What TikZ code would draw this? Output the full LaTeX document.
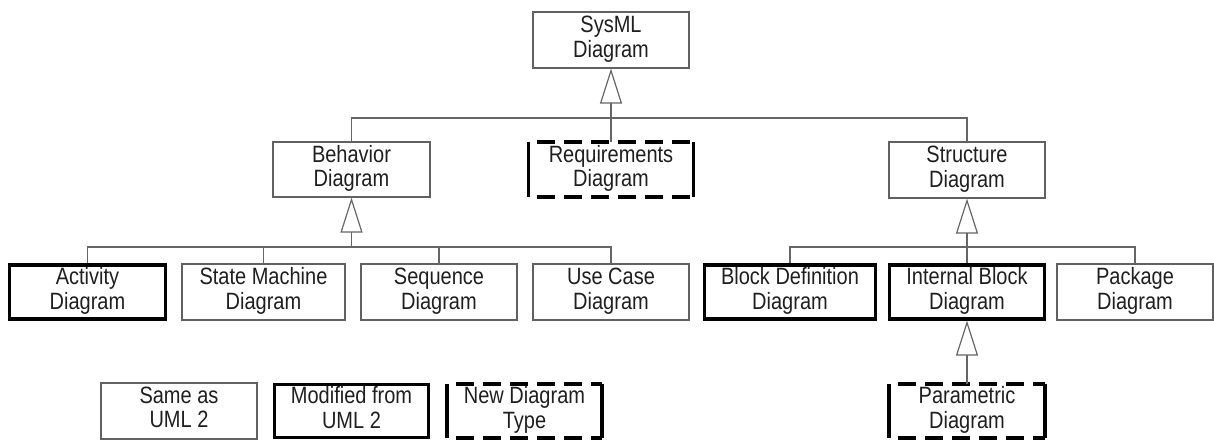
\documentclass[tikz,border=0pt]{standalone}
\usepackage{fontspec}
\setmainfont{Liberation Sans}
\usetikzlibrary{arrows.meta}
\newcommand{\lbl}[1]{\raisebox{-2pt}{\scalebox{1}[1.18]{\begin{tabular}{@{}c@{}}#1\end{tabular}}}}
\begin{document}
\begin{tikzpicture}[x=1pt,y=-1pt,
  box/.style={draw=black!62, line width=1.2pt, minimum height=56pt, inner sep=0pt,
    font=\fontsize{20}{20.5}\selectfont, text=black!88},
  thickbox/.style={box, draw=black, line width=3.2pt},
  newbox/.style={box, draw=none},
  conn/.style={draw=black!60, line width=1.2pt},
  gen/.style={conn, -{Triangle[open, length=35pt, width=22pt, line width=1.2pt]}},
  dashside/.style={draw=black, line width=3.4pt},
  dashtop/.style={draw=black, line width=3.4pt, dash pattern=on 18pt off 9pt, dash phase=18pt},
]
\useasboundingbox (0,0) rectangle (1214,440);

% level 0
\node[box, minimum width=156pt] (sysml) at (611,40) {\lbl{SysML\\Diagram}};
% level 1
\node[box, minimum width=157pt, minimum height=55pt] (behavior) at (351.5,169.5) {\lbl{Behavior\\Diagram}};
\node[newbox, minimum width=164pt, minimum height=54pt] (req) at (611,169.5) {\lbl{Requirements\\Diagram}};
\node[box, minimum width=156pt] (structure) at (967,170) {\lbl{Structure\\Diagram}};
% level 2
\node[thickbox, minimum width=156pt, minimum height=54pt] (activity) at (87.5,292) {\lbl{Activity\\Diagram}};
\node[box, minimum width=163pt, minimum height=56pt] (statemachine) at (263.5,292) {\lbl{State Machine\\Diagram}};
\node[box, minimum width=156pt, minimum height=56pt] (sequence) at (439,292) {\lbl{Sequence\\Diagram}};
\node[box, minimum width=156pt, minimum height=56pt] (usecase) at (611,292) {\lbl{Use Case\\Diagram}};
\node[thickbox, minimum width=171pt, minimum height=54pt] (blockdef) at (790,292) {\lbl{Block Definition\\Diagram}};
\node[thickbox, minimum width=155pt, minimum height=54pt] (ibd) at (967,292) {\lbl{Internal Block\\Diagram}};
\node[box, minimum width=156pt, minimum height=56pt] (package) at (1135,292) {\lbl{Package\\Diagram}};
% level 3 / legend
\node[box, minimum width=156pt] (same) at (179,411) {\lbl{Same as\\UML 2}};
\node[thickbox, minimum width=154pt, minimum height=53pt] (modified) at (351.5,411) {\lbl{Modified from\\UML 2}};
\node[newbox, minimum width=154pt, minimum height=53pt] (newtype) at (524.5,411) {\lbl{New Diagram\\Type}};
\node[newbox, minimum width=155pt, minimum height=53pt] (parametric) at (967,411) {\lbl{Parametric\\Diagram}};

% dashed borders (solid sides, dashed top and bottom)
\foreach \n in {req,newtype,parametric}{
  \draw[dashside] (\n.north west) -- (\n.south west) (\n.north east) -- (\n.south east);
  \draw[dashtop] (\n.north west) -- (\n.north east);
  \draw[dashtop] (\n.south west) -- (\n.south east);
}

% connectors
\coordinate (tj) at (611,118);
\coordinate (bj) at (351.5,247);
\coordinate (sj) at (967,247);

\draw[gen] (req.north) -- (sysml.south);
\draw[conn] (behavior.north) |- (tj) -| (structure.north);

\draw[gen] (bj) -- (behavior.south);
\draw[conn] (activity.north) |- (bj) -| (usecase.north);
\draw[conn] (statemachine.north) -- (statemachine.north |- bj);
\draw[conn] (sequence.north) -- (sequence.north |- bj);

\draw[gen] (ibd.north) -- (structure.south);
\draw[conn] (blockdef.north) |- (sj) -| (package.north);

\draw[gen] (parametric.north) -- (ibd.south);
\end{tikzpicture}
\end{document}
